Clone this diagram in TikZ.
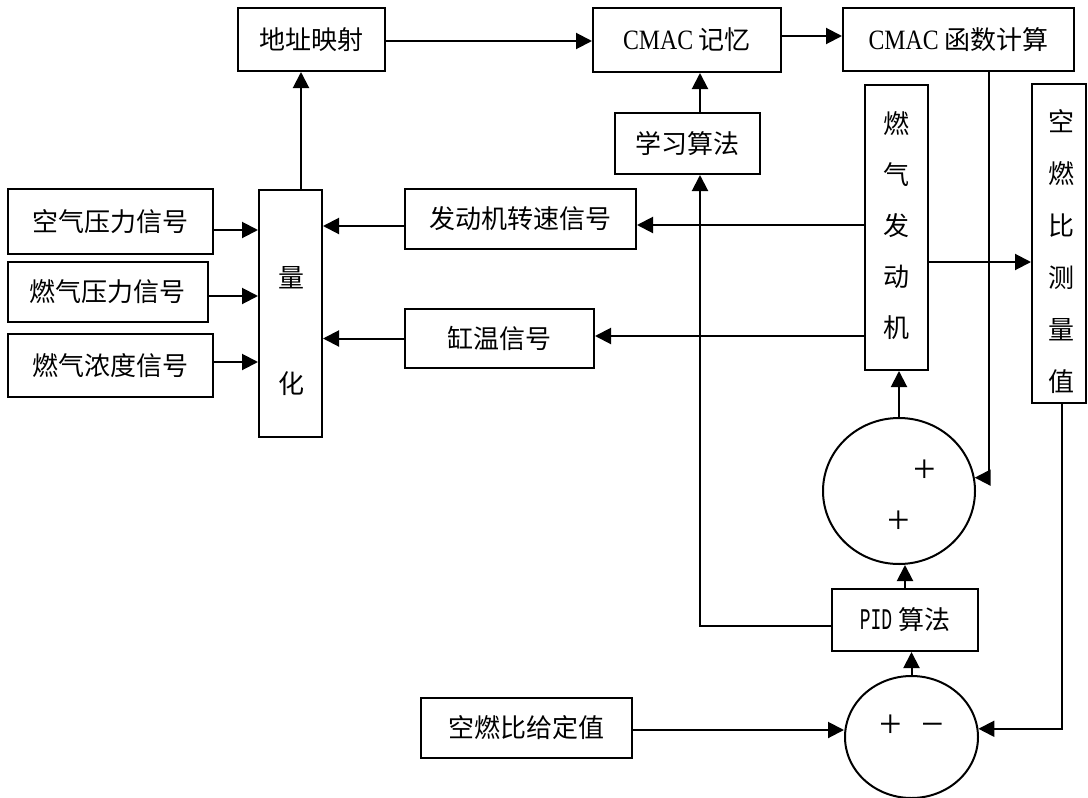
\documentclass[tikz,border=0pt]{standalone}
\usepackage{fontspec}
\setmainfont{Liberation Serif}
\newfontfamily\cjk{Noto Sans CJK SC}
\newfontfamily\latf[FakeStretch=0.85]{Liberation Serif}
\newfontfamily\pidf[FakeStretch=0.6]{Liberation Mono}
\newfontfamily\sgnf{Liberation Serif}
\usetikzlibrary{arrows.meta,calc,shapes.geometric}
\begin{document}
\begin{tikzpicture}[x=1pt,y=-1pt,
  bx/.style={draw,line width=2pt,inner sep=0pt,font=\cjk\fontsize{26}{26}\selectfont},
  circ/.style={draw,ellipse,line width=2pt,inner sep=0pt},
  txt/.style={inner sep=0pt,font=\cjk\fontsize{26}{26}\selectfont},
  sgn/.style={inner sep=0pt,anchor=base,font=\sgnf\fontsize{40}{40}\selectfont},
  arr/.style={line width=2pt,-{Triangle[length=16pt,width=16pt]}}]
\path[use as bounding box] (0,0) rectangle (1088,798);
% boxes
\node[bx,minimum width=147pt,minimum height=63pt] (addr) at (311.5,39.5) {地址映射};
\node[bx,minimum width=188pt,minimum height=64pt] (mem) at (687,40) {{\latf\fontsize{28}{28}\selectfont CMAC} 记忆};
\node[bx,minimum width=231pt,minimum height=63pt] (func) at (958.5,39.5) {{\latf\fontsize{28}{28}\selectfont CMAC} 函数计算};
\node[bx,minimum width=145pt,minimum height=61pt] (learn) at (687.5,143.5) {学习算法};
\node[bx,minimum width=63pt,minimum height=285pt] (eng) at (896.5,227.5) {};
\node[txt,align=center,font=\cjk\fontsize{26}{51}\selectfont] (engT) at (896.5,225.5) {燃\\气\\发\\动\\机};
\node[bx,minimum width=54pt,minimum height=319pt] (afr) at (1059,243.5) {};
\node[txt,align=center,font=\cjk\fontsize{26}{52}\selectfont] (afrT) at (1061,251.5) {空\\燃\\比\\测\\量\\值};
\node[bx,minimum width=205pt,minimum height=65pt] (air) at (110.5,221.5) {空气压力信号};
\node[bx,minimum width=200pt,minimum height=60pt] (gas) at (108,292) {燃气压力信号};
\node[bx,minimum width=205pt,minimum height=63pt] (conc) at (110.5,365.5) {燃气浓度信号};
\node[bx,minimum width=63pt,minimum height=247pt] (quant) at (290.5,313.5) {};
\node[txt,align=center,font=\cjk\fontsize{26}{106}\selectfont] (quantT) at (291,331) {量\\化};
\node[bx,minimum width=231pt,minimum height=60pt] (speed) at (520.5,219) {发动机转速信号};
\node[bx,minimum width=189pt,minimum height=59pt] (temp) at (499.5,338.5) {缸温信号};
\node[bx,minimum width=146pt,minimum height=62pt] (pid) at (905,620) {{\pidf\fontsize{30}{30}\selectfont PID} 算法};
\node[bx,minimum width=211pt,minimum height=60pt] (set) at (526.5,728) {空燃比给定值};
% summing junctions
\node[circ,minimum width=152pt,minimum height=146pt] (sum1) at (899,491) {};
\node[circ,minimum width=133pt,minimum height=122pt] (sum2) at (911.5,737) {};
\node[sgn] (p1) at (925,482) {+};
\node[sgn] (p2) at (899,533) {+};
\node[sgn] (p3) at (891,737) {+};
\node[sgn] (m1) at (933,737) {−};
% connectors
\draw[arr] ([xshift=10.5pt]quant.north) -- ([xshift=10.5pt]quant.north |- addr.south);
\draw[arr] ([yshift=-1.5pt]addr.east) -- ([yshift=-1.5pt]addr.east -| mem.west);
\draw[arr] ([yshift=4pt]mem.east) -- ([yshift=4pt]mem.east -| func.west);
\draw[arr] ([xshift=12.5pt]learn.north) -- ([xshift=12.5pt]learn.north |- mem.south);
\draw[arr] ([yshift=-6pt]pid.west) -| ([xshift=12.5pt]learn.south);
\draw[arr] ([yshift=2.5pt]eng.west) -- ([yshift=2.5pt]eng.west -| speed.east);
\draw[arr] ([yshift=-7pt]speed.west) -- ([yshift=-7pt]speed.west -| quant.east);
\draw[arr] ([yshift=2.5pt]temp.east -| eng.west) -- ([yshift=2.5pt]temp.east);
\draw[arr] (temp.west) -- (temp.west -| quant.east);
\draw[arr] ([yshift=-8.5pt]air.east) -- ([yshift=-8.5pt]air.east -| quant.west);
\draw[arr] ([yshift=-4pt]gas.east) -- ([yshift=-4pt]gas.east -| quant.west);
\draw[arr] ([yshift=3.5pt]conc.east) -- ([yshift=3.5pt]conc.east -| quant.west);
\draw[arr] ([yshift=-34.5pt]eng.east) -- ([yshift=-34.5pt]eng.east -| afr.west);
\draw[arr] ([xshift=30.5pt]func.south) |- (sum1.10);
\draw[arr] (sum1.north) -- (sum1.north |- eng.south);
\draw[arr] (pid.north) -- (pid.north |- sum1.south);
\draw[arr] (sum2.north) -- (sum2.north |- pid.south);
\draw[arr] ([yshift=-2pt]set.east) -- ([yshift=-2pt]set.east -| sum2.west);
\draw[arr] ([xshift=3pt]afr.south) |- (sum2.7);
\end{tikzpicture}
\end{document}
